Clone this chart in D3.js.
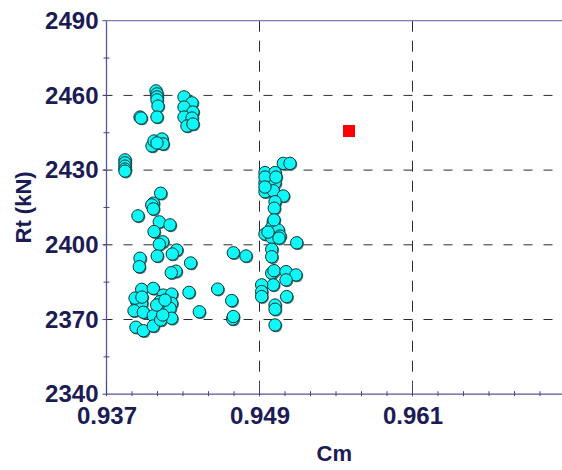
<!DOCTYPE html>
<html>
<head>
<meta charset="utf-8">
<script src="https://cdnjs.cloudflare.com/ajax/libs/d3/7.8.5/d3.min.js"></script>
<style>
  body { margin: 0; background: #fff; }
  text { font-family: "Liberation Sans", Arial, sans-serif; font-weight: bold; fill: #1b1b55; }
</style>
</head>
<body>
<div id="chart"></div>
<script>
// Cm / Rt cloud of design points
var cm = [
    0.93845, 0.93845, 0.93845, 0.93845, 0.93845,
    0.93963, 0.93971,
    0.94088, 0.94096, 0.94096, 0.94096, 0.94104, 0.94096,
    0.94308, 0.94371, 0.94308, 0.94378, 0.94308, 0.94371, 0.94331, 0.94378,
    0.94057, 0.94073, 0.94135, 0.94143, 0.94096,
    0.94125, 0.94067, 0.94055, 0.94067, 0.93947, 0.94114, 0.94198, 0.94073,
    0.94141, 0.94114, 0.94251, 0.94216, 0.93963, 0.94098, 0.93957, 0.94360,
    0.94245, 0.94208,
    0.93976, 0.94067, 0.94145, 0.94211, 0.94347, 0.94572, 0.94682, 0.93937,
    0.93976, 0.94120, 0.94211, 0.93916, 0.93989, 0.94120, 0.94120, 0.94198,
    0.94428, 0.94690, 0.94695, 0.94067, 0.94211, 0.93931, 0.93989, 0.94067,
    0.94125, 0.94141, 0.94094, 0.93924, 0.93978, 0.94159,
    0.95087, 0.95139, 0.94943, 0.95022, 0.94943, 0.95022, 0.94943, 0.95008,
    0.95087, 0.95022, 0.95016, 0.95008, 0.94996, 0.95047, 0.94943, 0.94996,
    0.95061, 0.95192, 0.94794, 0.94695, 0.94996, 0.94996, 0.94996, 0.95014,
    0.95108, 0.95186, 0.95108, 0.95008, 0.94917, 0.94917, 0.94917, 0.95113,
    0.95022, 0.95022, 0.95022, 0.94943, 0.95029, 0.94943, 0.95014, 0.95053,
    0.94967
];
var rt = [
    2434.1, 2432.9, 2431.6, 2430.4, 2429.6,
    2451.3, 2450.9,
    2461.8, 2460.6, 2459.4, 2458.2, 2455.7, 2451.3,
    2459.4, 2457.0, 2455.3, 2453.3, 2451.3, 2450.9, 2447.7, 2448.5,
    2439.7, 2441.7, 2442.5, 2440.5, 2440.9,
    2420.7, 2416.7, 2416.0, 2414.4, 2411.6, 2409.2, 2408.0, 2405.3,
    2401.2, 2400.2, 2397.9, 2396.3, 2394.6, 2395.5, 2391.2, 2392.7,
    2389.4, 2388.8,
    2382.1, 2382.5, 2379.8, 2380.2, 2380.9, 2382.2, 2377.6, 2377.2,
    2376.5, 2377.2, 2376.5, 2373.5, 2372.9, 2375.1, 2373.1, 2374.5,
    2373.1, 2370.2, 2371.2, 2371.5, 2370.5, 2366.9, 2365.5, 2367.4,
    2369.8, 2371.8, 2375.8, 2378.6, 2379.0, 2377.8,
    2432.7, 2432.7, 2429.0, 2429.0, 2424.9, 2424.9, 2421.3, 2421.7,
    2419.6, 2417.3, 2414.7, 2409.3, 2407.0, 2405.9, 2404.3, 2403.0,
    2403.5, 2400.8, 2395.5, 2396.8, 2398.2, 2395.2, 2388.6, 2389.6,
    2389.2, 2387.9, 2385.9, 2383.9, 2383.9, 2381.2, 2379.2, 2379.2,
    2375.8, 2374.1, 2367.8, 2427.2, 2427.2, 2423.2, 2410.0, 2402.7,
    2405.1
];
// the highlighted (red) point
var best_cm = [0.95602];
var best_rt = [2445.7];

var x_ticks = [0.937, 0.949, 0.961, 0.973];
var y_ticks = [2340, 2370, 2400, 2430, 2460, 2490];

var chart_width  = 562;
var chart_height = 470;
var pad_left = 106.5, pad_top = 20.7, pad_bottom = 394.2;

var svg = d3.select('#chart')
    .append('svg')
    .attr('width', chart_width)
    .attr('height', chart_height);

var x_scale = d3.scaleLinear()
    .domain([0.937, 0.973])
    .range([pad_left, pad_left + 459]);

var y_scale = d3.scaleLinear()
    .domain([2340, 2490])
    .range([pad_bottom, pad_top]);

// dashed grid
svg.append('g')
    .selectAll('line')
    .data(y_ticks.slice(1, 5))
    .enter()
    .append('line')
    .attr('x1', pad_left - 3)
    .attr('x2', chart_width)
    .attr('y1', d => y_scale(d))
    .attr('y2', d => y_scale(d))
    .attr('stroke', '#2a2a2a')
    .attr('stroke-dasharray', '9,11');

svg.append('g')
    .selectAll('line')
    .data(x_ticks.slice(1, 3))
    .enter()
    .append('line')
    .attr('x1', d => x_scale(d))
    .attr('x2', d => x_scale(d))
    .attr('y1', pad_top)
    .attr('y2', pad_bottom)
    .attr('stroke', '#2a2a2a')
    .attr('stroke-dasharray', '11,9');

// axes
var x_axis = d3.axisBottom(x_scale)
    .tickValues(x_ticks.slice(0, 3))
    .tickSize(0)
    .tickPadding(13)
    .tickFormat(d3.format('.3f'));

var gx = svg.append('g')
    .attr('transform', `translate(0, ${pad_bottom})`)
    .call(x_axis);
gx.select('.domain').remove();
gx.selectAll('text').style('font-size', '24px').attr('fill', '#1b1b55');

var y_axis = d3.axisLeft(y_scale)
    .tickValues(y_ticks)
    .tickSize(0)
    .tickPadding(8)
    .tickFormat(d3.format('d'));

var gy = svg.append('g')
    .attr('transform', `translate(${pad_left}, 0)`)
    .call(y_axis);
gy.select('.domain').remove();
gy.selectAll('text').style('font-size', '24px').attr('fill', '#1b1b55');

// axis frame lines
svg.append('line')
    .attr('x1', pad_left).attr('x2', pad_left)
    .attr('y1', pad_top).attr('y2', pad_bottom)
    .attr('stroke', '#56569a').attr('stroke-width', 1.3);
svg.append('line')
    .attr('x1', pad_left).attr('x2', chart_width)
    .attr('y1', pad_bottom).attr('y2', pad_bottom)
    .attr('stroke', '#56569a').attr('stroke-width', 1.3);
svg.append('line')
    .attr('x1', pad_left).attr('x2', chart_width)
    .attr('y1', pad_top).attr('y2', pad_top)
    .attr('stroke', '#7c7cb0').attr('stroke-width', 1.3);

// minor ticks
var x_minor = d3.range(0.939, 0.9725, 0.002);
svg.append('g').selectAll('line')
    .data(x_minor)
    .enter()
    .append('line')
    .attr('x1', d => x_scale(d)).attr('x2', d => x_scale(d))
    .attr('y1', pad_bottom - 3).attr('y2', pad_bottom + 2)
    .attr('stroke', '#44448a');
svg.append('g').selectAll('line')
    .data(x_ticks)
    .enter()
    .append('line')
    .attr('x1', d => x_scale(d)).attr('x2', d => x_scale(d))
    .attr('y1', pad_bottom - 12).attr('y2', pad_bottom + 2)
    .attr('stroke', '#44448a');

var y_minor = [2355, 2385, 2415, 2445, 2475];
svg.append('g').selectAll('line')
    .data(y_minor)
    .enter()
    .append('line')
    .attr('x1', pad_left - 3).attr('x2', pad_left + 3)
    .attr('y1', d => y_scale(d)).attr('y2', d => y_scale(d))
    .attr('stroke', '#44448a');
svg.append('g').selectAll('line')
    .data(y_ticks)
    .enter()
    .append('line')
    .attr('x1', pad_left - 4).attr('x2', pad_left)
    .attr('y1', d => y_scale(d)).attr('y2', d => y_scale(d))
    .attr('stroke', '#44448a');

// axis titles
svg.append('text')
    .attr('x', (pad_left + chart_width) / 2)
    .attr('y', 461)
    .attr('text-anchor', 'middle')
    .style('font-size', '22px')
    .text('Cm');

svg.append('text')
    .attr('transform', `translate(31, ${(pad_top + pad_bottom) / 2}) rotate(-90)`)
    .attr('text-anchor', 'middle')
    .style('font-size', '22px')
    .text('Rt (kN)');

// points
var pts = cm.map((c, i) => [c, rt[i]]);

svg.append('g').selectAll('circle')
    .data(pts)
    .enter()
    .append('circle')
    .attr('cx', d => x_scale(d[0]) + 1)
    .attr('cy', d => y_scale(d[1]) + 1)
    .attr('r', 6.3)
    .attr('fill', '#3c7c7c');

svg.append('g').selectAll('circle')
    .data(pts)
    .enter()
    .append('circle')
    .attr('cx', d => x_scale(d[0]))
    .attr('cy', d => y_scale(d[1]))
    .attr('r', 6.2)
    .attr('fill', '#0ff8f8')
    .attr('stroke', '#123030')
    .attr('stroke-width', 1);

svg.append('g').selectAll('rect')
    .data(best_cm)
    .enter()
    .append('rect')
    .attr('x', (d) => x_scale(d) - 6)
    .attr('y', (d, i) => y_scale(best_rt[i]) - 6)
    .attr('width', 12)
    .attr('height', 12)
    .attr('fill', '#ff0000');
</script>
</body>
</html>
